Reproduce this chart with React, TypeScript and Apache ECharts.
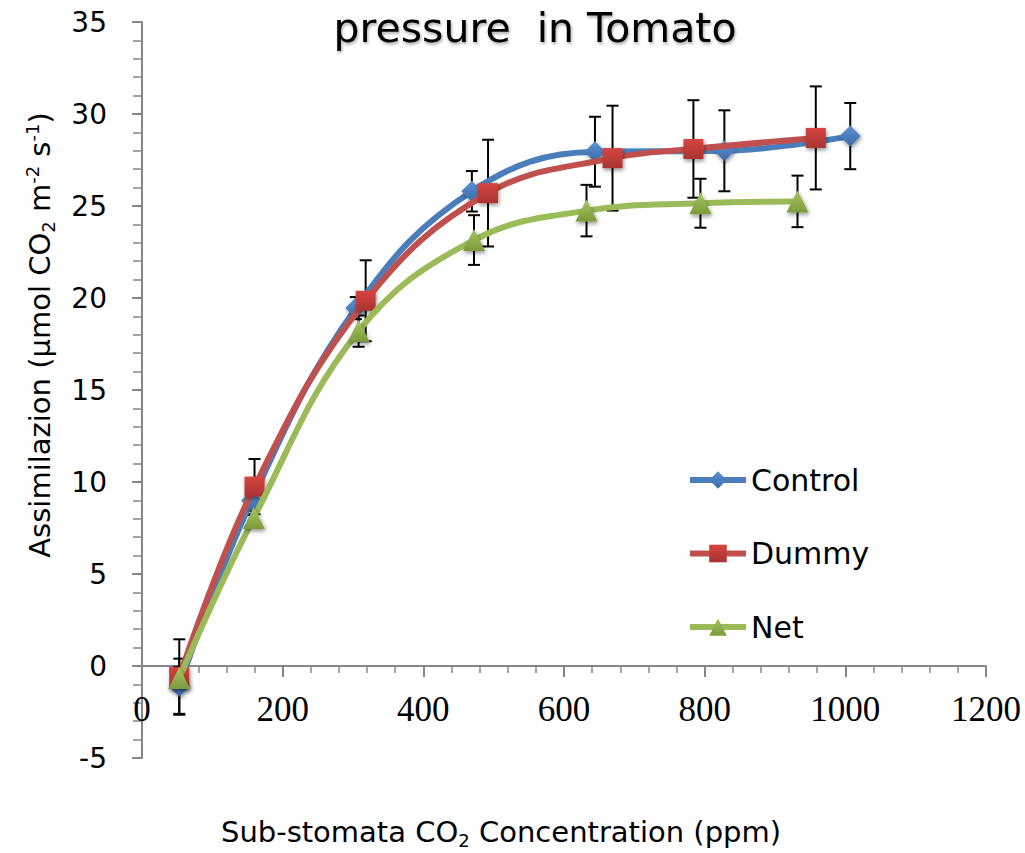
import React, { useEffect, useRef } from "react";
import * as echarts from "echarts";

// ---- data ----
const controlX = [53, 156, 304, 469, 644, 828, 1007];
const controlY = [-1.1, 9.0, 19.45, 25.8, 27.95, 28.0, 28.8];
const controlErr = [1.5, 0.8, 0.6, 1.1, 1.9, 2.2, 1.8];

const dummyX = [53, 160, 318, 492, 669, 784, 958];
const dummyY = [-0.6, 9.75, 19.85, 25.7, 27.6, 28.1, 28.7];
const dummyErr = [2.05, 1.5, 2.2, 2.9, 2.85, 2.65, 2.8];

const netX = [53, 159, 308, 472, 632, 794, 932];
const netY = [-0.65, 8.05, 18.2, 23.15, 24.75, 25.15, 25.25];
const netErr = [0.6, 0.4, 0.85, 1.35, 1.4, 1.33, 1.4];

const seriesNames = ["Control", "Dummy", "Net"];
const xMin = 0;
const xMax = 1200;
const xInterval = 200;
const yMin = -5;
const yMax = 35;
const yInterval = 5;

const titleText = "pressure  in Tomato";
const yNameText = "Assimilazion (µmol CO{sub|2} m{sup|-2} s{sup|-1})";
const xNameText = "Sub-stomata CO{sub|2} Concentration (ppm)";

const zip = (xs: number[], ys: number[]) => xs.map((x, i) => [x, ys[i]]);
const zip3 = (xs: number[], ys: number[], es: number[]) => xs.map((x, i) => [x, ys[i], es[i]]);

const grad = (a: string, b: string) => ({
  type: "linear",
  x: 0,
  y: 0,
  x2: 0,
  y2: 1,
  colorStops: [
    { offset: 0, color: a },
    { offset: 1, color: b },
  ],
});

const errRender = (params: any, api: any) => {
  const x = api.value(0);
  const y = api.value(1);
  const e = api.value(2);
  const top = api.coord([x, y + e]);
  const bot = api.coord([x, y - e]);
  const hw = 6;
  const style = { stroke: "#000", lineWidth: 2 };
  return {
    type: "group",
    children: [
      { type: "line", shape: { x1: top[0], y1: top[1], x2: bot[0], y2: bot[1] }, style },
      { type: "line", shape: { x1: top[0] - hw, y1: top[1], x2: top[0] + hw, y2: top[1] }, style },
      { type: "line", shape: { x1: bot[0] - hw, y1: bot[1], x2: bot[0] + hw, y2: bot[1] }, style },
    ],
  };
};

const FONT = '"DejaVu Sans"';
const AXIS_GRAY = "#868686";
const shadow = { shadowBlur: 4, shadowColor: "rgba(0,0,0,0.45)", shadowOffsetX: 1, shadowOffsetY: 2 };

const richSubSup = (size: number) => ({
  sub: { fontSize: Math.round(size * 0.62), lineHeight: 20, verticalAlign: "bottom", fontFamily: FONT, fill: "#000", color: "#000" },
  sup: { fontSize: Math.round(size * 0.62), lineHeight: 20, verticalAlign: "top", fontFamily: FONT, fill: "#000", color: "#000" },
});

export default function App() {
  const ref = useRef<HTMLDivElement>(null);
  useEffect(() => {
    if (!ref.current) return;
    const chart = echarts.init(ref.current, undefined, { renderer: "svg" });
    const option: any = {
      animation: false,
      backgroundColor: "#fff",
      grid: { left: 142, right: 39, top: 22, bottom: 95, containLabel: false },
      legend: {
        data: seriesNames,
        orient: "vertical",
        left: 687,
        top: 460,
        padding: 0,
        itemWidth: 56,
        itemHeight: 22,
        itemGap: 33.5,
        lineStyle: { width: 6 },
        textStyle: { fontFamily: FONT, fontSize: 30, color: "#000", lineHeight: 40 },
      },
      xAxis: {
        type: "value",
        min: xMin,
        max: xMax,
        interval: xInterval,
        axisLine: { onZero: true, lineStyle: { color: AXIS_GRAY, width: 2 } },
        axisTick: { show: true, length: 11, lineStyle: { color: AXIS_GRAY, width: 2 } },
        minorTick: { show: true, splitNumber: 5, length: 7, lineStyle: { color: AXIS_GRAY, width: 1.5 } },
        splitLine: { show: false },
        axisLabel: {
          color: "#000",
          fontFamily: '"Liberation Serif"',
          fontSize: 35,
          margin: -66,
          formatter: (v: number) => String(v),
        },
      },
      yAxis: {
        type: "value",
        min: yMin,
        max: yMax,
        interval: yInterval,
        axisLine: { show: true, onZero: false, lineStyle: { color: AXIS_GRAY, width: 2 } },
        axisTick: { show: true, length: 10, lineStyle: { color: AXIS_GRAY, width: 2 } },
        minorTick: { show: true, splitNumber: 5, length: 9, lineStyle: { color: AXIS_GRAY, width: 1.5 } },
        splitLine: { show: false },
        axisLabel: { color: "#000", fontFamily: FONT, fontSize: 28, margin: 35 },
      },
      graphic: [
        {
          type: "text",
          x: 535,
          y: 28,
          style: {
            text: titleText,
            fontFamily: FONT,
            fontSize: 41,
            fill: "#000",
            align: "center",
            verticalAlign: "middle",
            textShadowBlur: 3,
            textShadowColor: "rgba(0,0,0,0.35)",
            textShadowOffsetX: 1,
            textShadowOffsetY: 2,
          },
        },
        {
          type: "text",
          x: 40,
          y: 335,
          rotation: Math.PI / 2,
          style: {
            text: yNameText,
            fontFamily: FONT,
            fontSize: 29,
            lineHeight: 34,
            fill: "#000",
            align: "center",
            verticalAlign: "middle",
            rich: richSubSup(29),
          },
        },
        {
          type: "text",
          x: 501,
          y: 832,
          style: {
            text: xNameText,
            fontFamily: FONT,
            fontSize: 29,
            lineHeight: 34,
            fill: "#000",
            align: "center",
            verticalAlign: "middle",
            rich: richSubSup(29),
          },
        },
      ],
      series: [
        { type: "custom", name: "errC", renderItem: errRender, data: zip3(controlX, controlY, controlErr), encode: { x: 0, y: 1 }, z: 1, silent: true },
        { type: "custom", name: "errD", renderItem: errRender, data: zip3(dummyX, dummyY, dummyErr), encode: { x: 0, y: 1 }, z: 1, silent: true },
        { type: "custom", name: "errN", renderItem: errRender, data: zip3(netX, netY, netErr), encode: { x: 0, y: 1 }, z: 1, silent: true },
        {
          name: "Control",
          type: "line",
          data: zip(controlX, controlY),
          smooth: 0.4,
          symbol: "diamond",
          symbolSize: 21,
          lineStyle: { color: "#4a7ebb", width: 6 },
          itemStyle: { color: grad("#5d93d6", "#3b6aa8"), ...shadow },
          z: 3,
        },
        {
          name: "Dummy",
          type: "line",
          data: zip(dummyX, dummyY),
          smooth: 0.4,
          symbol: "rect",
          symbolSize: 20,
          lineStyle: { color: "#c0504d", width: 6 },
          itemStyle: { color: grad("#d9443f", "#a83431"), ...shadow },
          z: 4,
        },
        {
          name: "Net",
          type: "line",
          data: zip(netX, netY),
          smooth: 0.4,
          symbol: "triangle",
          symbolSize: 22,
          lineStyle: { color: "#9bbb59", width: 6 },
          itemStyle: { color: grad("#a6c763", "#7c9a3a"), ...shadow },
          z: 5,
        },
      ],
    };
    chart.setOption(option);
    return () => chart.dispose();
  }, []);
  return (
    <div
      ref={ref}
      style={{ position: "fixed", left: 0, top: 0, width: 1025, height: 853, background: "#fff" }}
    />
  );
}
